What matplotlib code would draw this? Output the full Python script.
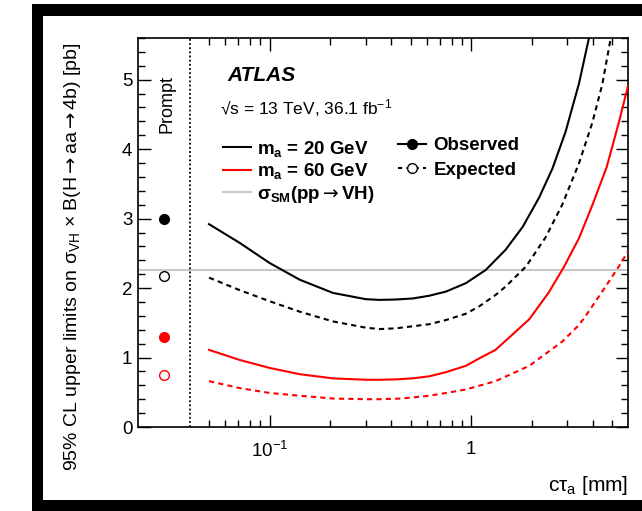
import matplotlib
matplotlib.use("Agg")
import matplotlib.pyplot as plt
from matplotlib.lines import Line2D
from matplotlib.patches import Rectangle
from matplotlib.ticker import FixedLocator, MultipleLocator, NullFormatter

plt.rcParams["font.family"] = ["Liberation Sans", "DejaVu Sans"]
plt.rcParams["mathtext.fontset"] = "custom"
plt.rcParams["mathtext.rm"] = "Liberation Sans"
plt.rcParams["mathtext.it"] = "Liberation Sans:italic"
plt.rcParams["mathtext.bf"] = "Liberation Sans:bold"
plt.rcParams["mathtext.sf"] = "DejaVu Sans"   # only used for the arrows

# ====== DATA ======
# m_a = 20 GeV observed / expected
obs20_x = [0.05, 0.071, 0.1, 0.141, 0.206, 0.3, 0.35, 0.42, 0.512, 0.62, 0.75,
           0.94, 1.18, 1.48, 1.80, 2.17, 2.53, 2.94, 3.43, 3.84, 3.95]
obs20_y = [2.92, 2.65, 2.36, 2.12, 1.93, 1.84, 1.83, 1.835, 1.85, 1.89, 1.95,
           2.07, 2.26, 2.55, 2.88, 3.30, 3.72, 4.25, 4.95, 5.60, 5.80]
exp20_x = [0.05, 0.071, 0.1, 0.141, 0.206, 0.3, 0.35, 0.42, 0.512, 0.62, 0.75,
           0.94, 1.10, 1.32, 1.48, 1.87, 2.34, 2.83, 3.43, 3.99, 4.47, 4.92, 5.05]
exp20_y = [2.15, 1.97, 1.81, 1.66, 1.52, 1.43, 1.41, 1.42, 1.45, 1.48, 1.54,
           1.63, 1.74, 1.90, 2.02, 2.31, 2.73, 3.20, 3.80, 4.38, 4.93, 5.59, 5.80]
# m_a = 60 GeV observed / expected
obs60_x = [0.05, 0.071, 0.1, 0.141, 0.206, 0.3, 0.35, 0.42, 0.512, 0.62, 0.75,
           0.94, 1.10, 1.32, 1.48, 1.94, 2.43, 2.88, 3.43, 4.0, 4.7, 5.4, 6.0]
obs60_y = [1.11, 0.965, 0.85, 0.76, 0.70, 0.68, 0.68, 0.685, 0.70, 0.73, 0.79,
           0.88, 0.99, 1.11, 1.24, 1.55, 1.94, 2.30, 2.72, 3.20, 3.74, 4.38, 4.91]
exp60_x = [0.05, 0.071, 0.1, 0.141, 0.206, 0.3, 0.35, 0.45, 0.62, 0.75, 0.94,
           1.32, 1.94, 2.83, 3.43, 3.70, 4.64, 5.4, 6.0]
exp60_y = [0.66, 0.56, 0.49, 0.45, 0.41, 0.40, 0.40, 0.41, 0.45, 0.49, 0.54,
           0.66, 0.88, 1.23, 1.47, 1.60, 2.02, 2.31, 2.53]

# prompt limits (drawn at a dummy ctau left of the dotted line)
prompt_x = 0.03
prompt_obs = [3.00, 1.30]   # 20 GeV, 60 GeV
prompt_exp = [2.18, 0.75]
prompt_colors = ["black", "red"]
prompt_boundary = 0.04
sm_xsec = 2.26

x_minor = [0.05, 0.06, 0.07, 0.08, 0.09, 0.2, 0.3, 0.4, 0.5, 0.6, 0.7, 0.8, 0.9, 2, 3, 4, 5]

# ====== FIGURE ======
W, H = 642, 511
ARR = r"$\mathsf{\rightarrow}$"


def fx(x):
    return x / W


def fy(y):
    return 1 - y / H


fig = plt.figure(figsize=(W / 100, H / 100), dpi=100)

# black frame around the picture
for x0, y0, x1, y1 in [(32, 4, 43, 511), (32, 4, 642, 16), (32, 500, 642, 511)]:
    fig.add_artist(Rectangle((fx(x0), fy(y1)), fx(x1) - fx(x0), fy(y0) - fy(y1),
                             transform=fig.transFigure, color="black", lw=0))

ax = fig.add_axes([fx(138), fy(427), fx(628) - fx(138), fy(38) - fy(427)])
ax.set_xscale("log")
ax.set_xlim(0.0222, 6.0)
ax.set_ylim(0, 5.6)

grey = "#c8c8c8"
ax.axhline(sm_xsec, color=grey, lw=1.5, zorder=1)
ax.axvline(prompt_boundary, color="black", lw=1.3, ls=(0, (1, 1.3)), zorder=2)

dash = (0, (2.5, 2))
ax.plot(obs20_x, obs20_y, color="black", lw=1.5, zorder=3)
ax.plot(exp20_x, exp20_y, color="black", lw=1.5, ls=dash, zorder=3)
ax.plot(obs60_x, obs60_y, color="red", lw=1.5, zorder=3)
ax.plot(exp60_x, exp60_y, color="red", lw=1.5, ls=dash, zorder=3)

for yv, c in zip(prompt_obs, prompt_colors):
    ax.plot([prompt_x], [yv], ls="none", marker="o", ms=7, color=c, zorder=4)
for yv, c in zip(prompt_exp, prompt_colors):
    ax.plot([prompt_x], [yv], ls="none", marker="o", ms=7, mfc="white", mec=c,
            mew=1.0, zorder=4)

# ticks
ax.xaxis.set_major_locator(FixedLocator([0.1, 1]))
ax.xaxis.set_minor_locator(FixedLocator(x_minor))
ax.xaxis.set_minor_formatter(NullFormatter())
ax.set_xticklabels([r"10$^{-1}$", "1"])
ax.yaxis.set_major_locator(MultipleLocator(1))
ax.yaxis.set_minor_locator(MultipleLocator(0.2))
ax.tick_params(which="both", direction="in", top=True, right=True, labelsize=13.5)
ax.tick_params(which="major", length=9, width=1)
ax.tick_params(which="minor", length=5, width=1)
ax.tick_params(axis="x", pad=10)
ax.tick_params(axis="y", pad=4)
for s in ax.spines.values():
    s.set_linewidth(1.2)

# labels
fig.text(fx(73), fy(42),
         r"95% CL upper limits on σ$_{\mathrm{VH}}$ × B(H" + ARR + "aa" + ARR + "4b) [pb]",
         rotation=90, ha="center", va="top", fontsize=14)
fig.text(fx(628), fy(485), r"cτ$_{\mathrm{a}}$ [mm]", ha="right", va="center",
         fontsize=15)

fig.text(fx(227), fy(75), "ATLAS", fontsize=15, fontweight="bold",
         fontstyle="italic", ha="left", va="center")
fig.text(fx(220), fy(108), r"√s = 13 TeV, 36.1 fb$^{-1}$", fontsize=12.5,
         ha="left", va="center")
fig.text(fx(167), fy(104), "Prompt", rotation=90, fontsize=13, ha="center",
         va="center")

# legends
h1 = [Line2D([], [], color="black", lw=1.5),
      Line2D([], [], color="red", lw=1.5),
      Line2D([], [], color=grey, lw=1.5)]
l1 = [r"m$_{\mathbf{a}}$ = 20 GeV", r"m$_{\mathbf{a}}$ = 60 GeV",
      r"σ$_{\mathbf{SM}}$(pp" + ARR + "VH)"]
fig.legend(h1, l1, loc="upper left", bbox_to_anchor=(fx(223), fy(139)),
           frameon=False, prop={"size": 13.5, "weight": "bold"},
           handlelength=1.5, handletextpad=0.3, labelspacing=0.12,
           borderpad=0, borderaxespad=0)

h2 = [Line2D([], [], color="black", lw=1.5, marker="o", ms=7),
      Line2D([], [], color="black", lw=1.5, ls=(0, (2, 2)), marker="o", ms=7,
             mfc="white", mew=1.0)]
fig.legend(h2, ["Observed", "Expected"], loc="upper left",
           bbox_to_anchor=(fx(398), fy(137)), frameon=False,
           prop={"size": 13.5, "weight": "bold"}, handlelength=1.5,
           handletextpad=0.4, labelspacing=0.4, numpoints=1,
           borderpad=0, borderaxespad=0)

fig.savefig("out.png", dpi=100)
